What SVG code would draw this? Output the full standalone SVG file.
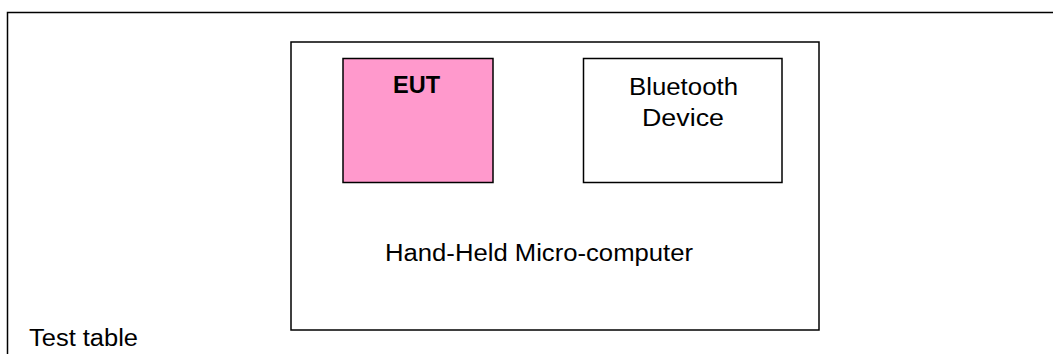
<svg xmlns="http://www.w3.org/2000/svg" width="1053" height="354" viewBox="0 0 1053 354">
<style>
.box{fill:#ffffff;stroke:#000000;stroke-width:1.5}
.eut{fill:#FF99CC;stroke:#000000;stroke-width:1.5}
.t{font-family:"Liberation Sans",Arial,sans-serif;font-size:23px;fill:#000000}
.b{font-weight:bold}
</style>
<rect width="1053" height="354" fill="#ffffff"/>
<g id="test-table">
<rect class="box" x="7.5" y="12.5" width="1100" height="400"/>
<text class="t" x="29" y="346" textLength="109" lengthAdjust="spacingAndGlyphs">Test table</text>
</g>
<g id="hand-held">
<rect class="box" x="291" y="42" width="528" height="288"/>
<text class="t" x="385" y="261" textLength="308" lengthAdjust="spacingAndGlyphs">Hand-Held Micro-computer</text>
</g>
<g id="eut">
<rect class="eut" x="343" y="58.5" width="150" height="124"/>
<text class="t b" x="393" y="93" textLength="47" lengthAdjust="spacingAndGlyphs">EUT</text>
</g>
<g id="bluetooth">
<rect class="box" x="583.5" y="58.5" width="198.5" height="124"/>
<text class="t" x="629" y="95" textLength="109" lengthAdjust="spacingAndGlyphs">Bluetooth</text>
<text class="t" x="642" y="126" textLength="82" lengthAdjust="spacingAndGlyphs">Device</text>
</g>
<g id="connectors"/>
</svg>
